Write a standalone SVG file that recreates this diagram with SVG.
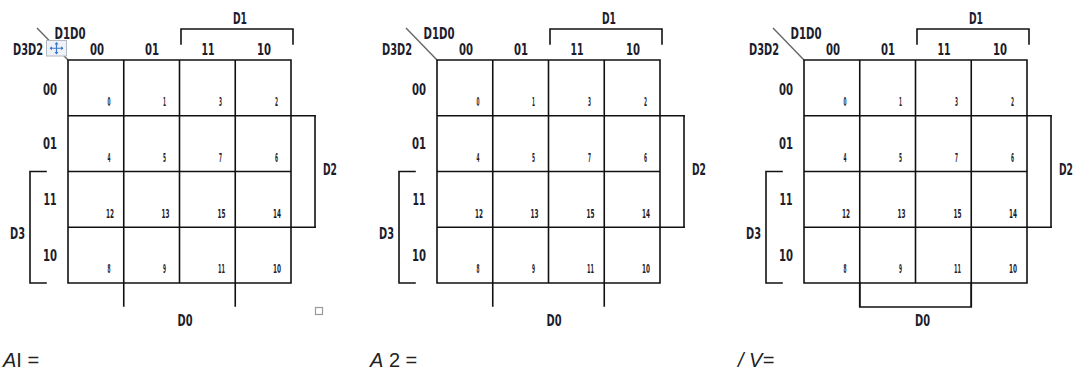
<svg xmlns="http://www.w3.org/2000/svg" width="1076" height="376" viewBox="0 0 1076 376">
  <style>
    .ln { stroke: #111; stroke-width: 1.6; fill: none; stroke-linecap: square; }
    .diag { stroke: #666; stroke-width: 1.4; fill: none; }
    .lb { font-family: "DejaVu Sans Condensed", "DejaVu Sans", sans-serif; font-weight: bold; font-size: 15.5px; fill: #1c1c2c; text-anchor: middle; }
    .num { font-family: "DejaVu Sans Condensed", "DejaVu Sans", sans-serif; font-weight: bold; font-size: 12.5px; fill: #1c1c2c; text-anchor: middle; }
    .eq { font-family: "Liberation Sans", Arial, sans-serif; font-size: 20px; fill: #222; }
  </style>
  <defs>
    <!-- one 4-variable map: grid, cell indices, axis labels and brackets shared by all three -->
    <g id="kmap-base">
      <line class="diag" x1="37" y1="28" x2="68" y2="60"/>
      <!-- grid -->
      <path class="ln" d="M68,60 H291 V283 H68 Z M123.75,60 V306 M179.5,60 V283 M235.25,60 V306 M68,115.75 H315 M68,171.5 H291 M68,227.25 H315"/>
      <!-- D2 bracket -->
      <path class="ln" d="M315,115.75 V227.25"/>
      <!-- D3 bracket -->
      <path class="ln" d="M46,171.5 H30 V283 H46"/>
      <!-- D1 bracket -->
      <path class="ln" d="M181,44 V29 H293 V44"/>
      <!-- axis labels -->
      <text class="lb" x="70" y="38.5" textLength="31" lengthAdjust="spacingAndGlyphs">D1D0</text>
      <text class="lb" x="28" y="54.5" textLength="30" lengthAdjust="spacingAndGlyphs">D3D2</text>
      <text class="lb" x="240" y="23.5" textLength="14" lengthAdjust="spacingAndGlyphs">D1</text>
      <text class="lb" x="330" y="174.5" textLength="14" lengthAdjust="spacingAndGlyphs">D2</text>
      <text class="lb" x="17.5" y="238.5" textLength="15" lengthAdjust="spacingAndGlyphs">D3</text>
      <!-- column codes -->
      <text class="lb" x="97" y="54.5" textLength="14" lengthAdjust="spacingAndGlyphs">00</text>
      <text class="lb" x="152" y="54.5" textLength="14" lengthAdjust="spacingAndGlyphs">01</text>
      <text class="lb" x="208" y="54.5" textLength="13" lengthAdjust="spacingAndGlyphs">11</text>
      <text class="lb" x="264" y="54.5" textLength="14" lengthAdjust="spacingAndGlyphs">10</text>
      <!-- row codes -->
      <text class="lb" x="50" y="94.5" textLength="14" lengthAdjust="spacingAndGlyphs">00</text>
      <text class="lb" x="50" y="149" textLength="14" lengthAdjust="spacingAndGlyphs">01</text>
      <text class="lb" x="50" y="204.5" textLength="13" lengthAdjust="spacingAndGlyphs">11</text>
      <text class="lb" x="50" y="260.5" textLength="14" lengthAdjust="spacingAndGlyphs">10</text>
      <!-- cell indices -->
      <g class="num">
        <text x="109" y="105.5" textLength="3" lengthAdjust="spacingAndGlyphs">0</text>
        <text x="164.5" y="105.5" textLength="3" lengthAdjust="spacingAndGlyphs">1</text>
        <text x="220.5" y="105.5" textLength="3" lengthAdjust="spacingAndGlyphs">3</text>
        <text x="276.5" y="105.5" textLength="3" lengthAdjust="spacingAndGlyphs">2</text>
        <text x="109" y="161.5" textLength="3" lengthAdjust="spacingAndGlyphs">4</text>
        <text x="164.5" y="161.5" textLength="3" lengthAdjust="spacingAndGlyphs">5</text>
        <text x="220.5" y="161.5" textLength="3" lengthAdjust="spacingAndGlyphs">7</text>
        <text x="276.5" y="161.5" textLength="3" lengthAdjust="spacingAndGlyphs">6</text>
        <text x="110" y="217.5" textLength="8" lengthAdjust="spacingAndGlyphs">12</text>
        <text x="165.5" y="217.5" textLength="8" lengthAdjust="spacingAndGlyphs">13</text>
        <text x="221.5" y="217.5" textLength="8" lengthAdjust="spacingAndGlyphs">15</text>
        <text x="277" y="217.5" textLength="8" lengthAdjust="spacingAndGlyphs">14</text>
        <text x="109" y="272.5" textLength="3" lengthAdjust="spacingAndGlyphs">8</text>
        <text x="164.5" y="272.5" textLength="3" lengthAdjust="spacingAndGlyphs">9</text>
        <text x="221.5" y="272.5" textLength="7" lengthAdjust="spacingAndGlyphs">11</text>
        <text x="277" y="272.5" textLength="8" lengthAdjust="spacingAndGlyphs">10</text>
      </g>
    </g>
  </defs>

  <rect width="1076" height="376" fill="#fff"/>

  <!-- map A1 -->
  <g id="map-a1">
    <use href="#kmap-base"/>
    <text class="lb" x="185" y="326" textLength="15" lengthAdjust="spacingAndGlyphs">D0</text>
    <!-- move handle -->
    <g id="move-handle">
      <rect x="46.5" y="40.5" width="20" height="15.5" fill="#eef2f8" stroke="#b4b8c0" stroke-width="1"/>
      <path d="M50,48.25 H63 M56.5,42.5 V54" stroke="#3b78c9" stroke-width="1.2" fill="none"/>
      <path d="M49.5,48.25 l2.5,-2 v4 Z M63.5,48.25 l-2.5,-2 v4 Z M56.5,42 l-2,2.5 h4 Z M56.5,54.5 l-2,-2.5 h4 Z" fill="#3b78c9"/>
    </g>
    <rect x="315.5" y="307.5" width="7" height="7" fill="#fff" stroke="#999" stroke-width="1.2"/>
    <text class="eq" x="3" y="367"><tspan font-style="italic">A</tspan>I  =</text>
  </g>

  <!-- map A2 -->
  <g id="map-a2" transform="translate(369,0)">
    <use href="#kmap-base"/>
    <text class="lb" x="185" y="326" textLength="15" lengthAdjust="spacingAndGlyphs">D0</text>
    <text class="eq" x="1" y="367"><tspan font-style="italic">A</tspan> 2 =</text>
  </g>

  <!-- map V -->
  <g id="map-v" transform="translate(736,0)">
    <use href="#kmap-base"/>
    <path class="ln" d="M123.75,283 V307 H235.25 V283"/>
    <text class="lb" x="186.5" y="326" textLength="15" lengthAdjust="spacingAndGlyphs">D0</text>
    <text class="eq" x="2" y="367" font-style="italic">/ V=</text>
  </g>
</svg>
